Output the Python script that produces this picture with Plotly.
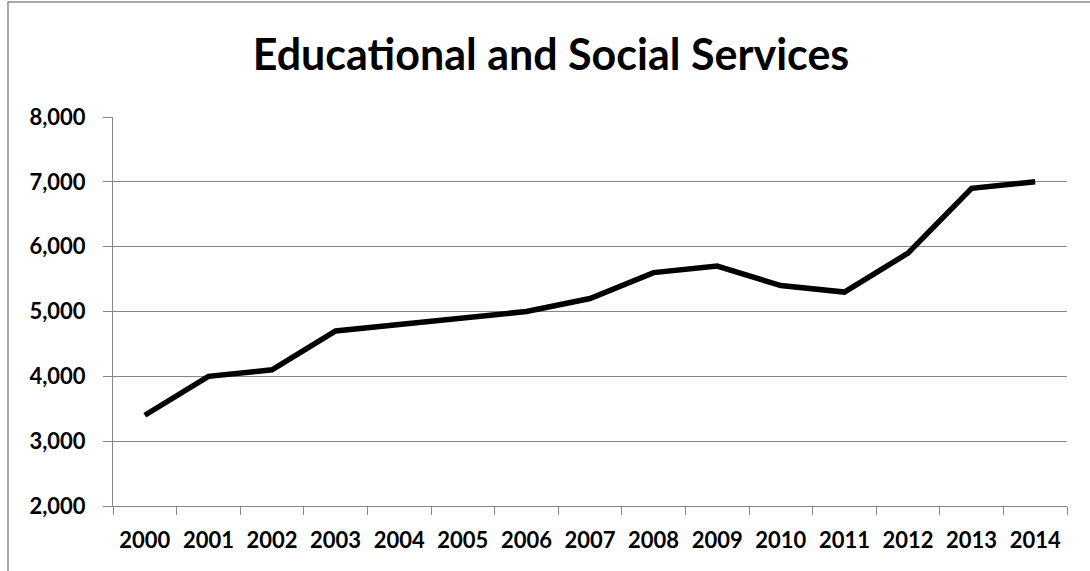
import plotly.graph_objects as go

years = [str(y) for y in range(2000, 2015)]
values = [3400, 4000, 4100, 4700, 4800, 4900, 5000, 5200, 5600, 5700, 5400, 5300, 5900, 6900, 7000]
title_text = "Educational and Social Services"
y_ticks = [2000, 3000, 4000, 5000, 6000, 7000, 8000]

W, H = 1090, 571
L, R, T, B = 113, 1067, 117, 506

fig = go.Figure()
fig.add_trace(go.Scatter(
    x=years, y=values, mode="lines",
    line=dict(color="black", width=5.5, shape="linear"),
    hoverinfo="x+y", showlegend=False,
))

grid = "#868686"
FONT = "Lato"

def px_x(p):
    return (p - L) / (R - L)

def px_y(p):
    return (B - p) / (B - T)

fig.update_layout(
    width=W, height=H,
    margin=dict(l=L, r=W - R, t=T, b=H - B, pad=0),
    paper_bgcolor="white", plot_bgcolor="white",
    title=dict(text="<b>" + title_text + "</b>", x=551 / W, xanchor="center",
               y=1 - 55 / H, yanchor="middle", yref="container",
               font=dict(family=FONT, size=43, color="black")),
    xaxis=dict(
        type="category", range=[-0.5, 14.5], tickson="boundaries",
        showgrid=False, showline=True, linecolor=grid, linewidth=1,
        ticks="outside", ticklen=8, tickcolor=grid, tickwidth=1,
        tickfont=dict(family=FONT, size=22, color="black", weight="bold"),
        ticklabelstandoff=15, fixedrange=True,
    ),
    yaxis=dict(
        range=[2000, 8000], tickvals=y_ticks, tickformat=",d",
        showgrid=True, gridcolor=grid, gridwidth=1,
        showline=True, linecolor=grid, linewidth=1,
        ticks="outside", ticklen=9, tickcolor=grid, tickwidth=1,
        tickfont=dict(family=FONT, size=22, color="black", weight="bold"),
        ticklabelstandoff=13, zeroline=False, fixedrange=True,
    ),
    shapes=[dict(type="path", xref="paper", yref="paper",
                 path=f"M {px_x(8)} {px_y(580)} L {px_x(8)} {px_y(2)} L {px_x(1100)} {px_y(2)}",
                 line=dict(color="#8c8c8c", width=1.5), layer="below")],
)

fig.write_html("out.html", config={"displayModeBar": False},
               post_script="document.body.style.margin='0px';document.body.style.overflow='hidden';")
